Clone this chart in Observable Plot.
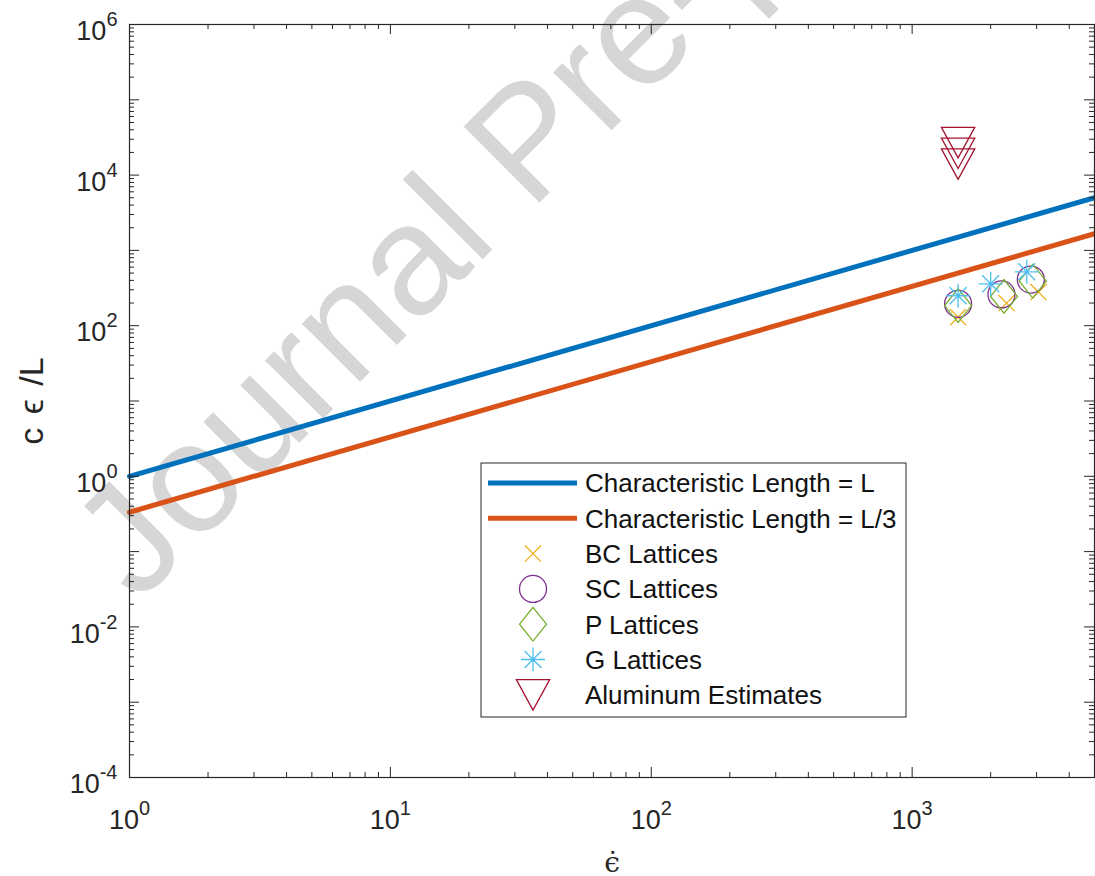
<!DOCTYPE html>
<html>
<head>
<meta charset="utf-8">
<script src="https://cdn.jsdelivr.net/npm/d3@7"></script>
<script src="https://cdn.jsdelivr.net/npm/@observablehq/plot@0.6"></script>
<style>
  html, body { margin: 0; padding: 0; background: #fff; }
  #chart { width: 1095px; height: 876px; }
</style>
</head>
<body>
<div id="chart"></div>
<script>
// Strain-rate endpoints of the two reference lines and their c·ε/L values
const rateEnds = [1, 5000];
const lengthL = [1, 5000];          // characteristic length = L
const lengthL3 = [0.3333, 1666.7];  // characteristic length = L/3

// Lattice measurements (strain rate, c·ε/L)
const bcRate = [1500, 2300, 3050];
const bcValue = [130, 200, 280];
const scRate = [1500, 2200, 2850];
const scValue = [195, 260, 410];
const pRate = [1500, 2250, 2900];
const pValue = [185, 245, 390];
const gRate = [1500, 2000, 2750];
const gValue = [250, 360, 520];
const alRate = [1500, 1500, 1500];
const alValue = [27000, 19500, 14000];

// Labelled decades on each axis
const xLabelTicks = [1, 10, 100, 1000];
const yLabelTicks = [1e-4, 1e-2, 1, 1e2, 1e4, 1e6];

const seriesNames = [
  "Characteristic Length = L",
  "Characteristic Length = L/3",
  "BC Lattices",
  "SC Lattices",
  "P Lattices",
  "G Lattices",
  "Aluminum Estimates"
];

const colors = {
  L: "#0072BD", L3: "#D95319", bc: "#EDB120", sc: "#7E2F8E",
  p: "#77AC30", g: "#4DBEEE", al: "#A2142F"
};

// Custom marker shapes (d3 symbol type interface: draw(context, size))
const rOf = size => Math.sqrt(size / Math.PI);
const symTimes = { draw(ctx, size) { const s = rOf(size) * 0.62;
  ctx.moveTo(-s, -s); ctx.lineTo(s, s); ctx.moveTo(s, -s); ctx.lineTo(-s, s); } };
const symDiamond = { draw(ctx, size) { const r = rOf(size); const w = r, h = r * 1.25;
  ctx.moveTo(0, -h); ctx.lineTo(w, 0); ctx.lineTo(0, h); ctx.lineTo(-w, 0); ctx.closePath(); } };
const symStar = { draw(ctx, size) { const r = rOf(size); const d = r * Math.SQRT1_2;
  ctx.moveTo(0, -r); ctx.lineTo(0, r); ctx.moveTo(-r, 0); ctx.lineTo(r, 0);
  ctx.moveTo(-d, -d); ctx.lineTo(d, d); ctx.moveTo(d, -d); ctx.lineTo(-d, d); } };
const symTriDown = { draw(ctx, size) { const r = rOf(size); const w = r * 1.15, h = r * 1.05;
  ctx.moveTo(-w, -h); ctx.lineTo(w, -h); ctx.lineTo(0, h); ctx.closePath(); } };
const symCircle = { draw(ctx, size) { const r = rOf(size); ctx.moveTo(r, 0); ctx.arc(0, 0, r, 0, 2 * Math.PI); } };

const W = 1095, H = 876;
const M = { top: 24, right: 1, bottom: 99, left: 129 };
const plotW = W - M.left - M.right, plotH = H - M.top - M.bottom;

const xDomain = [1, 5000], yDomain = [1e-4, 1e6];
const isDecade = d => Math.abs(Math.log10(d) - Math.round(Math.log10(d))) < 1e-9;
const xAll = d3.scaleLog().domain(xDomain).ticks(20);
const yAll = d3.scaleLog().domain(yDomain).ticks(40);
const xMajor = xAll.filter(isDecade), xMinor = xAll.filter(d => !isDecade(d));
const yMajor = yAll.filter(isDecade), yMinor = yAll.filter(d => !isDecade(d));

const pts = (xs, ys) => xs.map((x, i) => ({ x, y: ys[i] }));
const axisColor = "#262626";
const fmt = d => "10^" + Math.round(Math.log10(d));

const dotOpts = (sym, color, r) => ({ x: "x", y: "y", symbol: sym, r, stroke: color, fill: "none", strokeWidth: 1.3 });

const chart = Plot.plot({
  width: W, height: H,
  marginTop: M.top, marginRight: M.right, marginBottom: M.bottom, marginLeft: M.left,
  style: { fontFamily: "'Liberation Sans', Arial, Helvetica, sans-serif", fontSize: "27px", color: axisColor, background: "white" },
  x: { type: "log", domain: xDomain },
  y: { type: "log", domain: yDomain },
  marks: [
    Plot.line(pts(rateEnds, lengthL), { x: "x", y: "y", stroke: colors.L, strokeWidth: 5 }),
    Plot.line(pts(rateEnds, lengthL3), { x: "x", y: "y", stroke: colors.L3, strokeWidth: 5 }),
    Plot.dot(pts(bcRate, bcValue), dotOpts(symTimes, colors.bc, 13)),
    Plot.dot(pts(scRate, scValue), dotOpts(symCircle, colors.sc, 13.5)),
    Plot.dot(pts(pRate, pValue), dotOpts(symDiamond, colors.p, 13.5)),
    Plot.dot(pts(gRate, gValue), dotOpts(symStar, colors.g, 12)),
    Plot.dot(pts(alRate, alValue), dotOpts(symTriDown, colors.al, 14.5)),
    // inward ticks on all four sides
    Plot.tickX(xMajor, { x: d => d, stroke: axisColor, insetTop: plotH - 10 }),
    Plot.tickX(xMajor, { x: d => d, stroke: axisColor, insetBottom: plotH - 10 }),
    Plot.tickX(xMinor, { x: d => d, stroke: axisColor, insetTop: plotH - 5 }),
    Plot.tickX(xMinor, { x: d => d, stroke: axisColor, insetBottom: plotH - 5 }),
    Plot.tickY(yMajor, { y: d => d, stroke: axisColor, insetRight: plotW - 10 }),
    Plot.tickY(yMajor, { y: d => d, stroke: axisColor, insetLeft: plotW - 10 }),
    Plot.tickY(yMinor, { y: d => d, stroke: axisColor, insetRight: plotW - 5 }),
    Plot.tickY(yMinor, { y: d => d, stroke: axisColor, insetLeft: plotW - 5 }),
    Plot.frame({ stroke: axisColor, strokeWidth: 1.2 }),
    Plot.axisX({ ticks: xLabelTicks, tickSize: 0, tickPadding: 32, tickFormat: fmt, label: null }),
    Plot.axisY({ ticks: yLabelTicks, tickSize: 0, tickPadding: 12, tickFormat: fmt, label: null, dy: 7 })
  ]
});

document.getElementById("chart").appendChild(chart);
const svg = d3.select(chart);

// superscript exponents in the tick labels
svg.selectAll('g[aria-label="x-axis tick label"] text, g[aria-label="y-axis tick label"] text').each(function () {
  const t = this.textContent;
  if (!t.includes("^")) return;
  const [base, exp] = t.split("^");
  const el = d3.select(this);
  el.text(null).attr("fill", axisColor);
  el.append("tspan").text(base);
  el.append("tspan").attr("dy", -14).attr("font-size", 20).text(exp);
});

// "Journal Pre-proof" stamp behind everything
svg.insert("text", ":first-child")
  .attr("transform", "translate(138,604) rotate(-45)")
  .attr("text-anchor", "start")
  .attr("font-family", "'Liberation Sans', Arial, sans-serif")
  .attr("font-size", 156)
  .attr("fill", "#d6d6d6")
  .text("Journal Pre-proof");

// axis titles
svg.append("text")
  .attr("transform", "translate(43,401) rotate(-90)")
  .attr("text-anchor", "middle")
  .attr("font-family", "'Liberation Sans', 'DejaVu Sans', sans-serif")
  .attr("font-size", 34)
  .attr("fill", axisColor)
  .style("white-space", "pre")
  .style("word-spacing", "4px")
  .text("c \u03F5 /L");

svg.append("text")
  .attr("x", 612).attr("y", 872)
  .attr("text-anchor", "middle")
  .attr("font-family", "'DejaVu Serif', serif")
  .attr("font-size", 28)
  .attr("fill", axisColor)
  .text("\u03F5\u0307");

// legend
const lg = svg.append("g").attr("text-anchor", "start");
const box = { x: 481, y: 463, w: 425, h: 254 };
lg.append("rect").attr("x", box.x).attr("y", box.y).attr("width", box.w).attr("height", box.h)
  .attr("fill", "white").attr("stroke", axisColor).attr("stroke-width", 1);
const legendItems = [
  { kind: "line", color: colors.L },
  { kind: "line", color: colors.L3 },
  { kind: "dot", sym: symTimes, color: colors.bc, r: 13 },
  { kind: "dot", sym: symCircle, color: colors.sc, r: 13.5 },
  { kind: "dot", sym: symDiamond, color: colors.p, r: 13.5 },
  { kind: "dot", sym: symStar, color: colors.g, r: 12 },
  { kind: "dot", sym: symTriDown, color: colors.al, r: 14.5 }
];
legendItems.forEach((it, i) => {
  const cy = 483 + i * 35.3;
  if (it.kind === "line") {
    lg.append("line").attr("x1", 488).attr("x2", 577).attr("y1", cy).attr("y2", cy)
      .attr("stroke", it.color).attr("stroke-width", 5);
  } else {
    lg.append("path").attr("transform", `translate(533,${cy})`)
      .attr("d", d3.symbol().type(it.sym).size(Math.PI * it.r * it.r)())
      .attr("fill", "none").attr("stroke", it.color).attr("stroke-width", 1.3);
  }
  lg.append("text").attr("x", 585).attr("y", cy).attr("dy", "0.36em")
    .attr("text-anchor", "start")
    .attr("font-family", "'Liberation Sans', Arial, sans-serif")
    .attr("font-size", 26).attr("fill", "#111")
    .text(seriesNames[i]);
});
</script>
</body>
</html>
